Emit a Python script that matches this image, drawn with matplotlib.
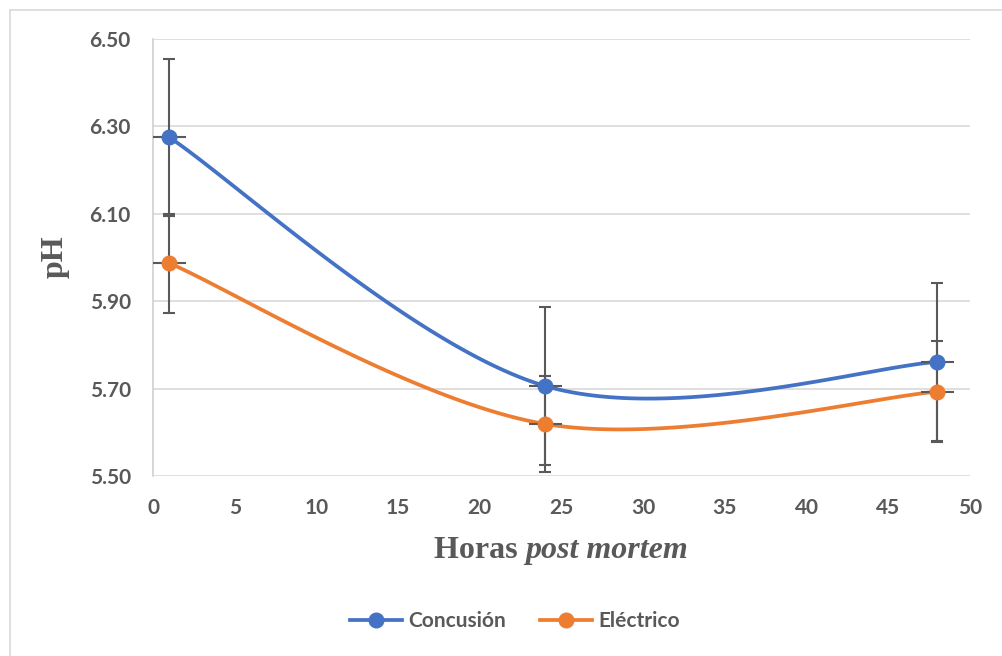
import matplotlib.pyplot as plt
import numpy as np
from matplotlib.lines import Line2D

hours = [1, 24, 48]
concusion = [6.275, 5.706, 5.761]
concusion_err = [0.18, 0.18, 0.18]
electrico = [5.987, 5.619, 5.693]
electrico_err = [0.113, 0.11, 0.115]
hour_err = [1, 1, 1]

BLUE = '#4472C4'
ORANGE = '#ED7D31'
GRAY = '#595959'


def smooth(xs, ys, n=60):
    # bezier curve through the points, spreadsheet-style smoothing
    p = np.column_stack([xs, ys]).astype(float)
    pts = np.vstack([p[0], p, p[-1]])
    out = []
    t = np.linspace(0, 1, n)[:, None]
    for i in range(1, len(pts) - 2):
        p0, p1 = pts[i], pts[i + 1]
        c1 = p0 + (pts[i + 1] - pts[i - 1]) / 6
        c2 = p1 - (pts[i + 2] - pts[i]) / 6
        seg = ((1 - t) ** 3) * p0 + 3 * (1 - t) ** 2 * t * c1 + 3 * (1 - t) * t ** 2 * c2 + t ** 3 * p1
        out.append(seg)
    curve = np.vstack(out)
    return curve[:, 0], curve[:, 1]


plt.rcParams['font.family'] = ['Lato', 'DejaVu Sans']

fig = plt.figure(figsize=(10.02, 6.56), dpi=100)
ax = fig.add_axes([153 / 1002, 1 - 476 / 656, (970 - 153) / 1002, (476 - 39) / 656])

for ys, err, color in [(concusion, concusion_err, BLUE), (electrico, electrico_err, ORANGE)]:
    sx, sy = smooth(hours, ys)
    ax.plot(sx, sy, color=color, lw=2.7, zorder=3, solid_capstyle='round')
    ax.errorbar(hours, ys, yerr=err, fmt='none', ecolor=GRAY, elinewidth=1.5,
                capsize=4.5, capthick=1.5, zorder=4)
    ax.errorbar(hours, ys, xerr=hour_err, fmt='none', ecolor=GRAY, elinewidth=1.5,
                capsize=0, zorder=4)
    ax.plot(hours, ys, 'o', color=color, ms=10.5, zorder=5)

ax.set_xlim(0, 50)
ax.set_ylim(5.5, 6.5)
ax.set_xticks(np.arange(0, 51, 5))
ax.set_yticks(np.arange(5.5, 6.51, 0.2))
ax.yaxis.set_major_formatter(plt.FormatStrFormatter('%.2f'))
ax.tick_params(length=0, labelsize=15, labelcolor=GRAY)
ax.tick_params(axis='y', pad=16)
ax.tick_params(axis='x', pad=16)
for lab in ax.get_xticklabels() + ax.get_yticklabels():
    lab.set_fontweight('bold')
ax.yaxis.grid(True, color='#d9d9d9', lw=1.2)
ax.set_axisbelow(True)
for side in ['top', 'right', 'bottom']:
    ax.spines[side].set_visible(False)
ax.spines['left'].set_color('#d0d0d0')
ax.spines['left'].set_linewidth(1.2)

# y axis title
fig.text(55 / 1002, 1 - 257 / 656, 'pH', rotation=90, ha='center', va='center',
         family='Liberation Serif', fontweight='bold', fontsize=23, color=GRAY)

# x axis title with italic part
fig.canvas.draw()
r = fig.canvas.get_renderer()
y_base = 1 - 558 / 656
t1 = fig.text(0, y_base, 'Horas ', family='Liberation Serif', fontweight='bold',
              fontsize=23, color=GRAY, va='baseline')
t2 = fig.text(0, y_base, 'post mortem', family='Liberation Serif', fontweight='bold',
              fontstyle='italic', fontsize=23, color=GRAY, va='baseline')
w1 = t1.get_window_extent(r).width
w2 = t2.get_window_extent(r).width
x0 = 561 - (w1 + w2) / 2
t1.set_x(x0 / 1002)
t2.set_x((x0 + w1) / 1002)

handles = [Line2D([], [], color=BLUE, lw=2.7, marker='o', ms=10.5),
           Line2D([], [], color=ORANGE, lw=2.7, marker='o', ms=10.5)]
leg = fig.legend(handles, ['Concusión', 'Eléctrico'], loc='center',
                 bbox_to_anchor=(515 / 1002, 1 - 621 / 656), ncol=2, frameon=False,
                 prop={'size': 15, 'weight': 'bold'}, handlelength=2.5,
                 handletextpad=0.3, columnspacing=1.6)
for txt in leg.get_texts():
    txt.set_color(GRAY)

# outer chart border
fig.add_artist(Line2D([10 / 1002, 10 / 1002], [0, 1 - 10 / 656], color='#d9d9d9', lw=1.2))
fig.add_artist(Line2D([10 / 1002, 1], [1 - 10 / 656, 1 - 10 / 656], color='#d9d9d9', lw=1.2))

fig.savefig('out.png', dpi=100)
